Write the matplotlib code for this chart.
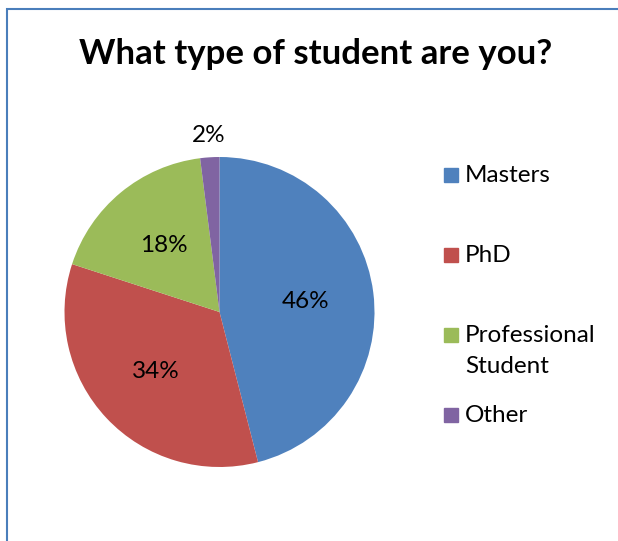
import numpy as np
import matplotlib.pyplot as plt
from matplotlib.patches import Rectangle

# Survey answers
labels = ['Masters', 'PhD', 'Professional\nStudent', 'Other']
shares = [46, 34, 18, 2]
colors = ['#4F81BD', '#C0504D', '#9BBB59', '#8064A2']

W, H = 618, 541
plt.rcParams['font.family'] = ['Lato', 'DejaVu Sans']

fig = plt.figure(figsize=(W / 100, H / 100), dpi=100)

# chart frame (left and top edges visible)
fig.patches.append(Rectangle((7 / W, -0.1), 1.2, 1 - 9 / H + 0.1, transform=fig.transFigure,
                             fill=False, edgecolor='#4A7EBB', linewidth=1.5))

fig.text(316 / W, 1 - 54 / H, 'What type of student are you?', ha='center', va='center',
         fontsize=25, fontweight='bold')

# pie centred at (219, 312) px with radius 155 px
cx, cy, r = 219.5, 312, 155
ax = fig.add_axes([(cx - r) / W, (H - cy - r) / H, 2 * r / W, 2 * r / H])
wedges, texts, autotexts = ax.pie(shares, colors=colors, startangle=90, counterclock=False,
                                  autopct='%.0f%%', pctdistance=0.56,
                                  textprops={'fontsize': 17.5})
ax.set_xlim(-1, 1)
ax.set_ylim(-1, 1)
ax.set_aspect('equal')

# the small slice gets its label outside
w, t = wedges[-1], autotexts[-1]
mid = np.deg2rad((w.theta1 + w.theta2) / 2)
t.set_position((1.14 * np.cos(mid), 1.14 * np.sin(mid)))

# legend, handles aligned with the first line of each label
ys = [175, 255, 335, 415]
for lab, col, y in zip(labels, colors, ys):
    fig.patches.append(Rectangle((444 / W, 1 - (y + 7) / H), 14 / W, 14 / H,
                                 transform=fig.transFigure, color=col))
    fig.text(465 / W, 1 - (y - 10) / H, lab, ha='left', va='top', fontsize=17.5,
             linespacing=1.6)

fig.savefig('out.png', dpi=100)
